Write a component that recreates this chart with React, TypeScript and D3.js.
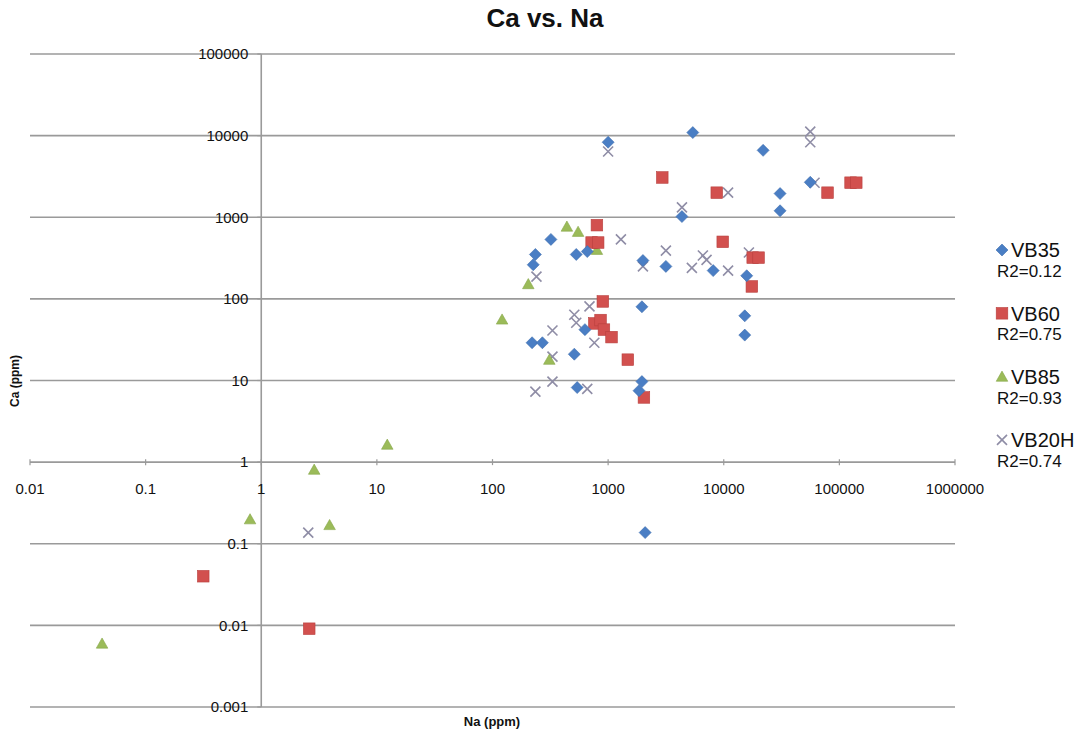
import React from "react";
import * as d3 from "d3";

// Na (ppm), Ca (ppm) pairs for each sample series
const vb35: [number, number][] = [
  [1000, 8300], [5400, 10900], [21900, 6600], [56000, 2680], [30700, 1950],
  [30700, 1200], [4350, 1020], [320, 535], [660, 380], [530, 350],
  [235, 350], [225, 262], [2000, 295], [3160, 250], [8100, 222],
  [15800, 192], [1960, 80], [15200, 62], [15200, 36], [630, 42],
  [220, 29], [270, 29], [510, 21], [540, 8.2], [1960, 9.7],
  [1850, 7.5], [2090, 0.137],
];

const vb60: [number, number][] = [
  [2940, 3070], [8700, 2000], [79000, 2000], [125000, 2650], [140000, 2650],
  [800, 800], [720, 490], [820, 490], [9800, 500], [17800, 320],
  [20000, 320], [17500, 142], [900, 93], [760, 50], [860, 55],
  [920, 42], [1070, 34], [1480, 18], [2040, 6.2], [0.315, 0.04],
  [2.6, 0.0091],
];

const vb85: [number, number][] = [
  [440, 770], [550, 665], [800, 400], [204, 152], [121, 56],
  [310, 18], [12.3, 1.64], [2.87, 0.81], [0.8, 0.2], [3.9, 0.17],
  [0.042, 0.006],
];

const vb20h: [number, number][] = [
  [1000, 6400], [56000, 11200], [56000, 8300], [10900, 2000], [4350, 1320],
  [61000, 2650], [1290, 535], [240, 187], [2000, 250], [3160, 390],
  [6600, 340], [7100, 300], [5300, 240], [10900, 222], [16500, 370],
  [690, 81], [510, 64], [530, 51], [330, 41], [760, 29],
  [330, 19.6], [330, 9.7], [235, 7.3], [660, 7.9], [2.55, 0.137],
];

const seriesNames = ["VB35", "VB60", "VB85", "VB20H"];
const r2Labels = ["R2=0.12", "R2=0.75", "R2=0.93", "R2=0.74"];

const xTickValues = [0.01, 0.1, 1, 10, 100, 1000, 10000, 100000, 1000000];
const xTickLabels = ["0.01", "0.1", "1", "10", "100", "1000", "10000", "100000", "1000000"];
const yTickValues = [0.001, 0.01, 0.1, 1, 10, 100, 1000, 10000, 100000];
const yTickLabels = ["0.001", "0.01", "0.1", "1", "10", "100", "1000", "10000", "100000"];

const COLORS = {
  VB35: "#4A7EC4",
  VB60: "#D2504E",
  VB85: "#9BBB59",
  VB20H: "#8F8DA6",
};

const FONT = "'Liberation Sans', Arial, sans-serif";

function Marker({ kind, x, y }: { kind: string; x: number; y: number }) {
  if (kind === "VB35") {
    const r = 6;
    return (
      <path
        d={`M${x},${y - r}L${x + r},${y}L${x},${y + r}L${x - r},${y}Z`}
        fill={COLORS.VB35}
        stroke="#3F6FAE"
        strokeWidth={0.6}
      />
    );
  }
  if (kind === "VB60") {
    const h = 5.8;
    return (
      <rect x={x - h} y={y - h} width={2 * h} height={2 * h} fill={COLORS.VB60} stroke="#B8403E" strokeWidth={0.6} />
    );
  }
  if (kind === "VB85") {
    const h = 5.5;
    return (
      <path
        d={`M${x},${y - h}L${x + h * 1.05},${y + h * 0.85}L${x - h * 1.05},${y + h * 0.85}Z`}
        fill={COLORS.VB85}
        stroke="#87A64A"
        strokeWidth={0.6}
      />
    );
  }
  const r = 5;
  return (
    <path
      d={`M${x - r},${y - r}L${x + r},${y + r}M${x - r},${y + r}L${x + r},${y - r}`}
      stroke={COLORS.VB20H}
      strokeWidth={1.6}
      fill="none"
    />
  );
}

export default function App() {
  const width = 1088;
  const height = 736;

  const x = d3.scaleLog().domain([0.01, 1000000]).range([30, 955]);
  const y = d3.scaleLog().domain([0.001, 100000]).range([707, 54]);

  const axisX = x(1);
  const axisY = y(1);
  const gridColor = "#9A9A9A";

  // drawn bottom to top
  const drawOrder: [string, [number, number][]][] = [
    ["VB20H", vb20h],
    ["VB85", vb85],
    ["VB60", vb60],
    ["VB35", vb35],
  ];

  const legendTop = 250;
  const legendStep = 63.3;

  return (
    <svg
      width={width}
      height={height}
      style={{ position: "absolute", left: 0, top: 0, background: "#fff" }}
      fontFamily={FONT}
    >
      <rect width={width} height={height} fill="#fff" />

      {/* title */}
      <text x={545} y={27} textAnchor="middle" fontSize={26} fontWeight="bold" fill="#111">
        Ca vs. Na
      </text>

      {/* horizontal gridlines */}
      {yTickValues.map((v) => (
        <line key={"g" + v} x1={x(0.01)} x2={x(1000000)} y1={y(v)} y2={y(v)} stroke={gridColor} strokeWidth={1.6} />
      ))}

      {/* vertical axis at Na = 1 */}
      <line x1={axisX} x2={axisX} y1={y(100000)} y2={y(0.001)} stroke={gridColor} strokeWidth={1.6} />

      {/* x tick marks on the Ca = 1 axis */}
      {xTickValues.map((v) => (
        <line key={"xt" + v} x1={x(v)} x2={x(v)} y1={axisY - 3} y2={axisY + 3} stroke={gridColor} strokeWidth={1.2} />
      ))}

      {/* y tick marks */}
      {yTickValues.map((v) => (
        <line key={"yt" + v} x1={axisX - 4} x2={axisX} y1={y(v)} y2={y(v)} stroke={gridColor} strokeWidth={1.2} />
      ))}

      {/* x tick labels */}
      {xTickValues.map((v, i) => (
        <text key={"xl" + v} x={x(v)} y={axisY + 32} textAnchor="middle" fontSize={15} fill="#111">
          {xTickLabels[i]}
        </text>
      ))}

      {/* y tick labels */}
      {yTickValues.map((v, i) => (
        <text key={"yl" + v} x={axisX - 13} y={y(v)} dy="0.35em" textAnchor="end" fontSize={15} fill="#111">
          {yTickLabels[i]}
        </text>
      ))}

      {/* axis titles */}
      <text x={492} y={726} textAnchor="middle" fontSize={13} fontWeight="bold" fill="#111">
        Na (ppm)
      </text>
      <text
        transform={`translate(19,381) rotate(-90)`}
        textAnchor="middle"
        fontSize={12}
        fontWeight="bold"
        fill="#111"
      >
        Ca (ppm)
      </text>

      {/* data */}
      {drawOrder.map(([name, pts]) => (
        <g key={name}>
          {pts.map((p, i) => (
            <Marker key={i} kind={name} x={x(p[0])} y={y(p[1])} />
          ))}
        </g>
      ))}

      {/* legend */}
      {seriesNames.map((name, i) => {
        const cy = legendTop + i * legendStep;
        return (
          <g key={"lg" + name}>
            <Marker kind={name} x={1002} y={cy} />
            <text x={1011} y={cy} dy="0.36em" fontSize={20} fill="#111">
              {name}
            </text>
            <text x={997} y={cy + 21} dy="0.36em" fontSize={17} fill="#111">
              {r2Labels[i]}
            </text>
          </g>
        );
      })}
    </svg>
  );
}
